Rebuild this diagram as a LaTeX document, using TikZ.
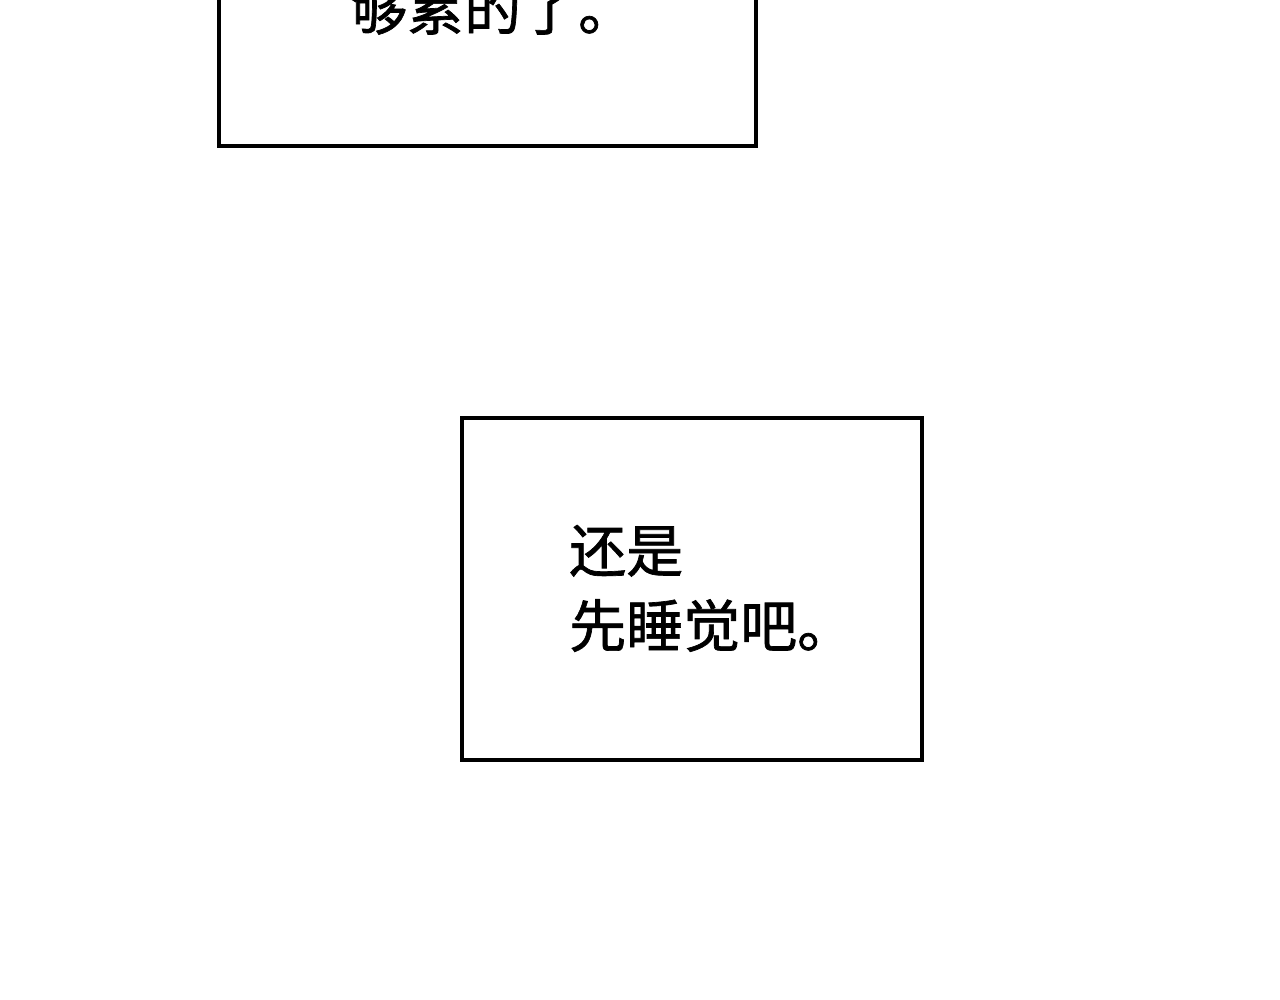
\documentclass[tikz,border=0pt]{standalone}
\usepackage{fontspec}
\newfontfamily\cjk[FakeBold=1.2]{Noto Sans CJK SC}
\begin{document}
\begin{tikzpicture}[x=1pt,y=-1pt,
  panel/.style={draw=black,line width=4pt,line join=miter},
  txt/.style={font=\cjk\fontsize{57}{75}\selectfont,inner sep=0pt,align=left}]
\useasboundingbox (0,0) rectangle (1280,1000);
\draw[panel] (219,-20) |- (756,146) -- (756,-20);
\node[txt,anchor=base west] (t1) at (350,30) {够累的了。};
\draw[panel] (462,418) rectangle (922,760);
\node[txt,anchor=base west] (t2) at (569,572) {还是};
\node[txt,anchor=base west] (t3) at (569,647) {先睡觉吧。};
\end{tikzpicture}
\end{document}
